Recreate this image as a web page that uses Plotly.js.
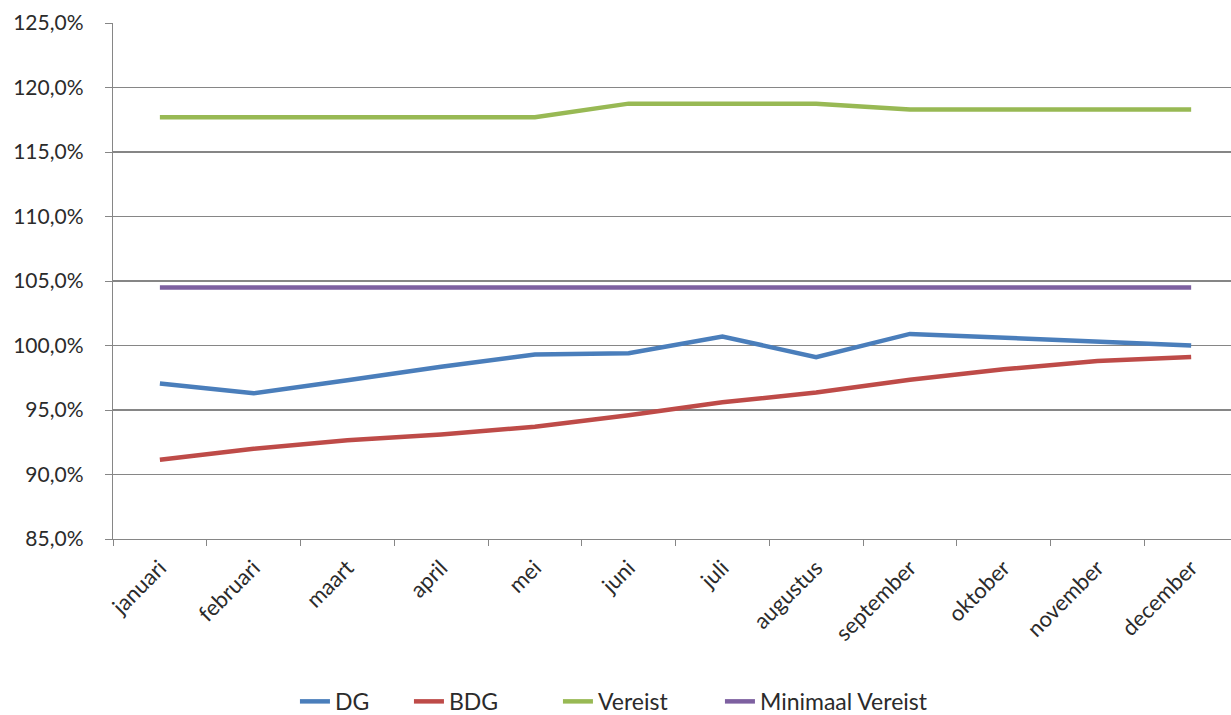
<!DOCTYPE html>
<html>
<head>
<meta charset="utf-8">
<script src="https://cdn.plot.ly/plotly-3.0.1.min.js"></script>
<style>html,body{margin:0;padding:0;background:#fff;}#chart{width:1231px;height:715px;}</style>
</head>
<body>
<div id="chart"></div>
<script>
const months = ["januari","februari","maart","april","mei","juni","juli","augustus","september","oktober","november","december"];
const dg = [97.05, 96.3, 97.3, 98.35, 99.3, 99.4, 100.7, 99.1, 100.9, 100.6, 100.3, 100.0];
const bdg = [91.15, 92.0, 92.65, 93.1, 93.7, 94.6, 95.6, 96.35, 97.35, 98.15, 98.8, 99.1];
const vereist = [117.7, 117.7, 117.7, 117.7, 117.7, 118.75, 118.75, 118.75, 118.3, 118.3, 118.3, 118.3];
const minimaal = [104.5, 104.5, 104.5, 104.5, 104.5, 104.5, 104.5, 104.5, 104.5, 104.5, 104.5, 104.5];
const yTicks = [85, 90, 95, 100, 105, 110, 115, 120, 125];
const yTickText = yTicks.map(v => v.toFixed(1).replace(".", ",") + "%");

const fontFam = "Lato, 'Open Sans', sans-serif";
const txtColor = "#2b2b2b";
function tr(name, y, color, lw) {
  return {type: "scatter", mode: "lines", name: name, x: months, y: y,
          line: {color: color, width: 4.5}, hoverinfo: "skip", legendwidth: lw};
}
const data = [
  tr("DG", dg, "#4A7EBB", 69),
  tr("BDG", bdg, "#BE4B48", 104),
  tr("Vereist", vereist, "#98B954", 117),
  tr("Minimaal Vereist", minimaal, "#7D60A0", 190)
];
const layout = {
  width: 1231, height: 715,
  margin: {l: 113, r: 0, t: 23, b: 176},
  paper_bgcolor: "#fff", plot_bgcolor: "#fff",
  font: {family: fontFam, size: 21, color: txtColor},
  showlegend: true,
  legend: {orientation: "h", x: 0.2396, xref: "container", xanchor: "left",
           y: 0.019, yref: "container", yanchor: "middle",
           font: {family: fontFam, size: 23, color: txtColor}, tracegroupgap: 0},
  xaxis: {
    type: "category", range: [-0.5, 11.425], tickangle: -45, automargin: false,
    tickson: "boundaries", ticks: "outside", ticklen: 6, tickcolor: "#868686",
    showline: true, linecolor: "#868686", linewidth: 1.3,
    showgrid: false, zeroline: false, fixedrange: true, ticklabelstandoff: 6,
    tickfont: {family: fontFam, size: 22, color: txtColor}
  },
  yaxis: {
    range: [85, 125], tickvals: yTicks, ticktext: yTickText, automargin: false,
    ticks: "outside", ticklen: 7, tickcolor: "#868686",
    showline: true, linecolor: "#868686", linewidth: 1.3,
    showgrid: true, gridcolor: "#868686", gridwidth: 1.3, zeroline: false,
    ticklabelstandoff: 17, fixedrange: true,
    tickfont: {family: fontFam, size: 21, color: txtColor}
  }
};
Plotly.newPlot("chart", data, layout, {displayModeBar: false, staticPlot: true});
</script>
</body>
</html>
